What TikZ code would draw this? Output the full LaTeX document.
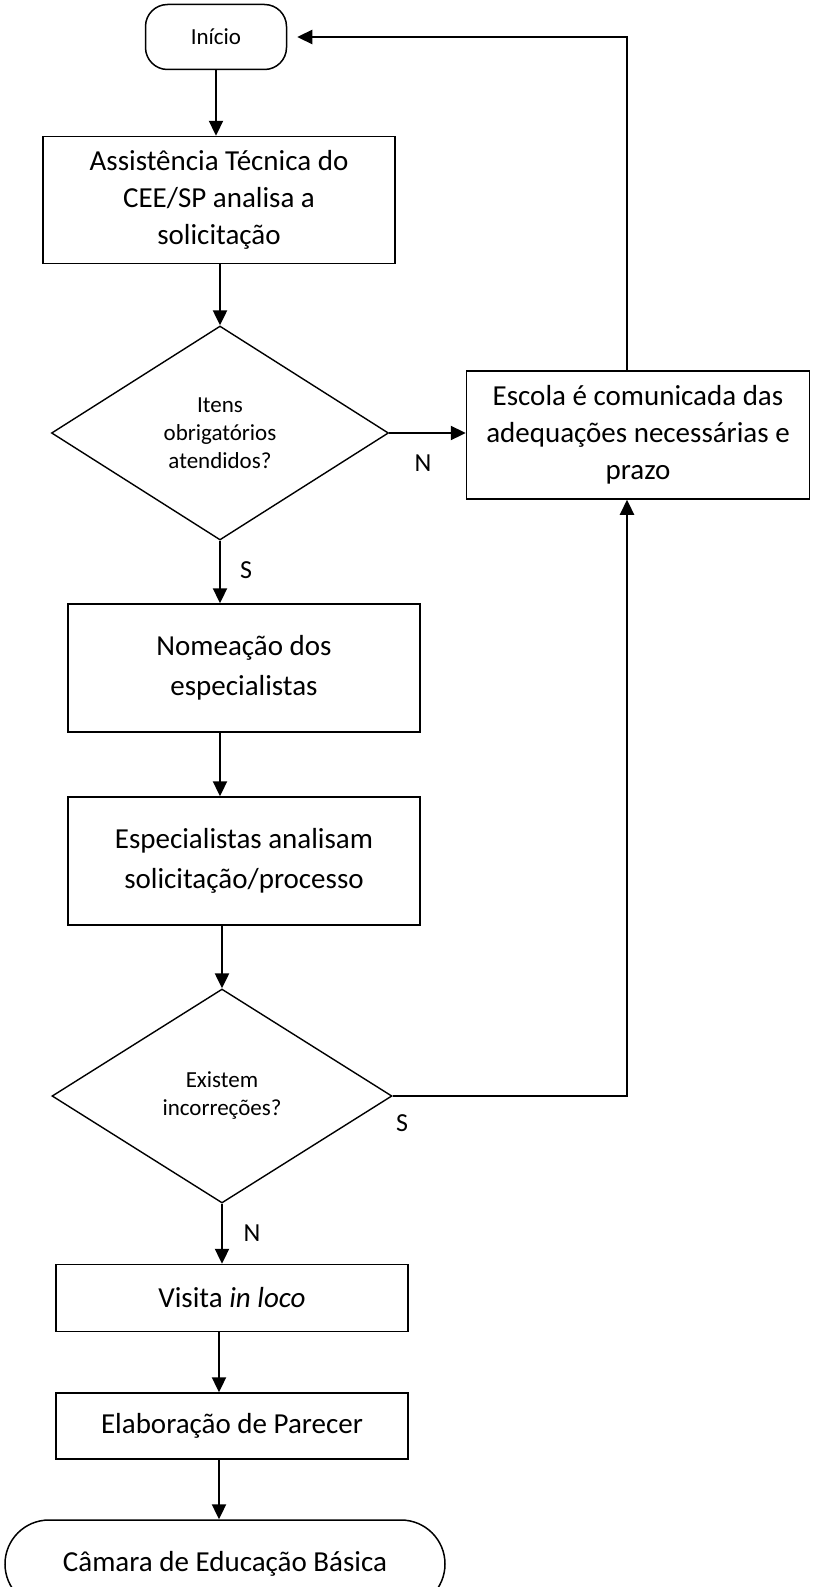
\documentclass[tikz,border=0pt]{standalone}
\usepackage{fontspec}
\setmainfont{Carlito}
\usetikzlibrary{shapes.geometric,arrows.meta}
\definecolor{fluxink}{HTML}{000000}
\newcommand{\textogrande}{\fontsize{29}{37}\selectfont}
\newcommand{\textomenor}{\fontsize{23}{28}\selectfont}

\begin{document}
\begin{tikzpicture}[x=1pt, y=-1pt,
  caixa/.style={draw=fluxink, line width=1.5pt, rectangle, inner sep=0pt, minimum width=352pt, font=\textogrande, align=center},
  decisao/.style={draw=fluxink, line width=1.4pt, diamond, aspect=1.6, inner sep=0pt, font=\textomenor, align=center},
  terminal/.style={draw=fluxink, line width=1.5pt, rectangle, inner sep=0pt},
  seta/.style={draw=fluxink, line width=2.3pt, -{Triangle[length=15pt,width=14pt]}},
  rotulo/.style={fluxink, font=\fontsize{26}{26}\selectfont}]

  \useasboundingbox (0,0) rectangle (812,1587);

  % coluna principal
  \node[terminal, rounded corners=22pt, minimum width=141pt, minimum height=65pt, font=\textomenor] (inicio) at (216,37) {Início};
  \node[caixa, minimum height=127pt] (analise) at (219,200) {Assistência Técnica do\\CEE/SP analisa a\\solicitação};
  \node[decisao, minimum width=337pt, minimum height=214pt] (itens) at (220,433) {Itens\\obrigatórios\\atendidos?};
  \node[caixa, minimum height=128pt, font=\fontsize{29}{40}\selectfont] (nomeacao) at (244,668) {Nomeação dos\\especialistas};
  \node[caixa, minimum height=128pt, font=\fontsize{29}{40}\selectfont] (especialistas) at (244,861) {Especialistas analisam\\solicitação/processo};
  \node[decisao, minimum width=340pt, minimum height=214pt] (incorrecoes) at (222,1096) {Existem\\incorreções?};
  \node[caixa, minimum height=67pt] (visita) at (232,1298) {Visita \textit{in loco}};
  \node[caixa, minimum height=66pt] (parecer) at (232,1426) {Elaboração de Parecer};
  \node[terminal, rounded corners=44pt, minimum width=440pt, minimum height=88pt, font=\textogrande] (camara) at (225,1564) {Câmara de Educação Básica};

  % coluna da direita
  \node[caixa, minimum width=343pt, minimum height=128pt] (escola) at (638,435) {Escola é comunicada das\\adequações necessárias e\\prazo};
  \coordinate (retorno) at (627,37);

  \draw[seta] (inicio.south) -- (inicio.south |- analise.north);
  \draw[seta] (analise.south -| itens.north) -- (itens.north);
  \draw[seta] (itens.south) -- (itens.south |- nomeacao.north);
  \draw[seta] (itens.south |- nomeacao.south) -- (itens.south |- especialistas.north);
  \draw[seta] (incorrecoes.north |- especialistas.south) -- (incorrecoes.north);
  \draw[seta] (incorrecoes.south) -- (incorrecoes.south |- visita.north);
  \draw[seta] (analise.south |- visita.south) -- (analise.south |- parecer.north);
  \draw[seta] (analise.south |- parecer.south) -- (analise.south |- camara.north);

  \draw[seta] (itens.east) -- (itens.east -| escola.west);
  \draw[seta] (incorrecoes.east) -- (retorno |- incorrecoes.east) -- (retorno |- escola.south);
  \draw[seta, shorten >=10pt] (retorno |- escola.north) -- (retorno) -- (inicio.east);

  \node[rotulo] (rotuloN1) at (423,463) {N};
  \node[rotulo] (rotuloS1) at (246,570) {S};
  \node[rotulo] (rotuloS2) at (402,1123) {S};
  \node[rotulo] (rotuloN2) at (252,1233) {N};

\end{tikzpicture}
\end{document}
